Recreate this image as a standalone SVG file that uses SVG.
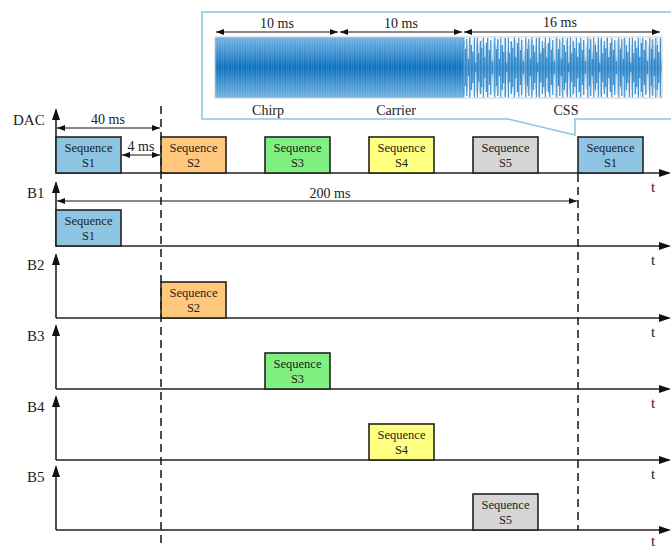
<svg xmlns="http://www.w3.org/2000/svg" width="671" height="548" viewBox="0 0 671 548">
<style>
text{font-family:"Liberation Serif","Times New Roman",serif;fill:#222}
.lbl{font-size:15px}
.dim{font-size:14px;text-anchor:middle}
.bx{font-size:12.5px;text-anchor:middle}
.axis{stroke:#222;stroke-width:1.6;fill:none}
.dl{stroke:#111;stroke-width:1;fill:none;marker-start:url(#da);marker-end:url(#da)}
.dash{stroke:#222;stroke-width:1.6;stroke-dasharray:8,5;fill:none}
.box{stroke:#222;stroke-width:1.6}
.s1{fill:#8ec5e3}.s2{fill:#ffc87c}.s3{fill:#80f080}.s4{fill:#ffff80}.s5{fill:#d5d5d5}
</style>
<defs>
<marker id="ah" markerUnits="userSpaceOnUse" markerWidth="12" markerHeight="8" refX="10" refY="4" orient="auto"><path d="M0,0L12,4L0,8z" fill="#111"/></marker>
<marker id="da" markerUnits="userSpaceOnUse" markerWidth="8" markerHeight="6" refX="8" refY="3" orient="auto-start-reverse"><path d="M0,0L8,3L0,6z" fill="#111"/></marker>
<linearGradient id="wg" x1="0" y1="0" x2="0" y2="1">
<stop offset="0" stop-color="#74b3e2"/><stop offset="0.5" stop-color="#0e72bf"/><stop offset="1" stop-color="#74b3e2"/>
</linearGradient>
<linearGradient id="cg" x1="0" y1="0" x2="0" y2="1">
<stop offset="0" stop-color="#1a7cc4" stop-opacity="0"/><stop offset="0.3" stop-color="#1a7cc4" stop-opacity="0.2"/><stop offset="0.5" stop-color="#1a7cc4" stop-opacity="0.6"/><stop offset="0.7" stop-color="#1a7cc4" stop-opacity="0.2"/><stop offset="1" stop-color="#1a7cc4" stop-opacity="0"/>
</linearGradient>
<pattern id="stripe" x="215" y="37" width="5" height="61" patternUnits="userSpaceOnUse">
<path d="M1.5,0V61M3.5,0V61" stroke="#ffffff" stroke-opacity="0.13" stroke-width="0.8"/>
</pattern>
<pattern id="cssp" x="463" y="37" width="31" height="61" patternUnits="userSpaceOnUse">
<path stroke="#1a7cc4" stroke-width="1" d="M0.8,0.5V60.5M2.3,12V49M3.8,2V59M5.3,22V39M6.8,0.5V60.5M8.3,8V53M9.8,15V46M11.3,1V60M12.8,26V35M14.3,0.5V60.5M15.8,16V45M17.3,4V57M18.8,11V50M20.3,0.5V60.5M21.8,20V41M23.3,6V55M24.8,1V60M26.3,13V48M27.8,3V58M29.3,24V37"/>
</pattern>
<pattern id="cssq" x="463" y="37" width="17" height="61" patternUnits="userSpaceOnUse">
<path stroke="#6aaade" stroke-opacity="0.55" stroke-width="0.8" d="M1.4,3V58M4.4,9V52M7.4,1V60M10.4,14V47M13.4,5V56M15.9,8V53"/>
</pattern>
</defs>

<g id="inset">
<path d="M672,12H202V119H508L575,135V119H672" fill="#fff" stroke="#8ec5e3" stroke-width="1.6"/>
<rect x="215" y="37" width="248" height="61" fill="url(#wg)"/>
<rect x="215" y="37" width="248" height="61" fill="url(#stripe)"/>
<rect x="463" y="37" width="199" height="61" fill="url(#cg)"/>
<rect x="463" y="37" width="199" height="61" fill="url(#cssq)"/>
<rect x="463" y="37" width="199" height="61" fill="url(#cssp)"/>
<rect x="215" y="37" width="447" height="61" fill="none" stroke="#d0d0d0" stroke-width="1"/>
<path class="dl" d="M216,32H338"/>
<path class="dl" d="M340,32H462"/>
<path class="dl" d="M464,32H660"/>
<text class="dim" x="277" y="28">10 ms</text>
<text class="dim" x="401" y="28">10 ms</text>
<text class="dim" x="560" y="27">16 ms</text>
<text class="dim" x="268" y="115">Chirp</text>
<text class="dim" x="396" y="115">Carrier</text>
<text class="dim" x="566" y="115">CSS</text>
</g>

<g id="axes">
<path class="axis" marker-end="url(#ah)" d="M56,173V110"/>
<path class="axis" marker-end="url(#ah)" d="M56,173H669"/>
<path class="axis" marker-end="url(#ah)" d="M56,246V183"/>
<path class="axis" marker-end="url(#ah)" d="M56,246H669"/>
<path class="axis" marker-end="url(#ah)" d="M56,318V255"/>
<path class="axis" marker-end="url(#ah)" d="M56,318H669"/>
<path class="axis" marker-end="url(#ah)" d="M56,389V326"/>
<path class="axis" marker-end="url(#ah)" d="M56,389H669"/>
<path class="axis" marker-end="url(#ah)" d="M56,460V397"/>
<path class="axis" marker-end="url(#ah)" d="M56,460H669"/>
<path class="axis" marker-end="url(#ah)" d="M56,530V467"/>
<path class="axis" marker-end="url(#ah)" d="M56,530H669"/>
<text class="lbl" x="13" y="125">DAC</text>
<text class="lbl" x="27" y="198">B1</text>
<text class="lbl" x="27" y="270">B2</text>
<text class="lbl" x="27" y="341">B3</text>
<text class="lbl" x="27" y="412">B4</text>
<text class="lbl" x="27" y="482">B5</text>
<text class="lbl" x="651" y="192">t</text>
<text class="lbl" x="651" y="265">t</text>
<text class="lbl" x="651" y="337">t</text>
<text class="lbl" x="651" y="408">t</text>
<text class="lbl" x="651" y="479">t</text>
<text class="lbl" x="651" y="546">t</text>
</g>

<g id="dac-s1"><rect class="box s1" x="56" y="137" width="65" height="36"/><text class="bx" x="88.5" y="152">Sequence</text><text class="bx" x="88.5" y="167">S1</text></g>
<g id="dac-s2"><rect class="box s2" x="161" y="137" width="65" height="36"/><text class="bx" x="193.5" y="152">Sequence</text><text class="bx" x="193.5" y="167">S2</text></g>
<g id="dac-s3"><rect class="box s3" x="265" y="137" width="65" height="36"/><text class="bx" x="297.5" y="152">Sequence</text><text class="bx" x="297.5" y="167">S3</text></g>
<g id="dac-s4"><rect class="box s4" x="369" y="137" width="65" height="36"/><text class="bx" x="401.5" y="152">Sequence</text><text class="bx" x="401.5" y="167">S4</text></g>
<g id="dac-s5"><rect class="box s5" x="473" y="137" width="65" height="36"/><text class="bx" x="505.5" y="152">Sequence</text><text class="bx" x="505.5" y="167">S5</text></g>
<g id="dac-s1b"><rect class="box s1" x="578" y="137" width="65" height="36"/><text class="bx" x="610.5" y="152">Sequence</text><text class="bx" x="610.5" y="167">S1</text></g>

<g id="b1-s1"><rect class="box s1" x="56" y="210" width="65" height="36"/><text class="bx" x="88.5" y="225">Sequence</text><text class="bx" x="88.5" y="240">S1</text></g>
<g id="b2-s2"><rect class="box s2" x="161" y="282" width="65" height="36"/><text class="bx" x="193.5" y="297">Sequence</text><text class="bx" x="193.5" y="312">S2</text></g>
<g id="b3-s3"><rect class="box s3" x="265" y="353" width="65" height="36"/><text class="bx" x="297.5" y="368">Sequence</text><text class="bx" x="297.5" y="383">S3</text></g>
<g id="b4-s4"><rect class="box s4" x="369" y="424" width="65" height="36"/><text class="bx" x="401.5" y="439">Sequence</text><text class="bx" x="401.5" y="454">S4</text></g>
<g id="b5-s5"><rect class="box s5" x="473" y="494" width="65" height="36"/><text class="bx" x="505.5" y="509">Sequence</text><text class="bx" x="505.5" y="524">S5</text></g>

<g id="connectors">
<path class="dash" d="M161,106V546"/>
<path class="dash" d="M578,174V530"/>
<path class="dl" d="M57,128H160"/>
<path class="dl" d="M122,155H160"/>
<path class="dl" d="M57,201H577"/>
<text class="dim" x="108" y="124">40 ms</text>
<text class="dim" x="141" y="151">4 ms</text>
<text class="dim" x="330" y="198">200 ms</text>
</g>
</svg>
